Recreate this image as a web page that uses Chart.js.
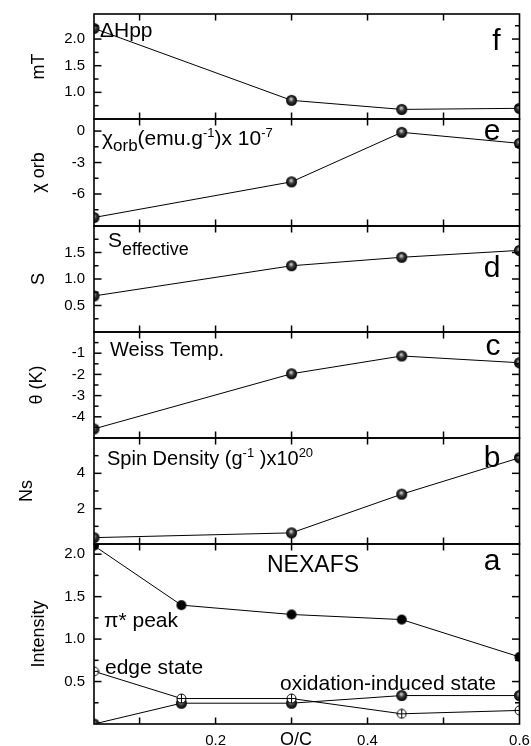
<!DOCTYPE html>
<html>
<head>
<meta charset="utf-8">
<script src="https://cdn.jsdelivr.net/npm/chart.js@4.4.1/dist/chart.umd.min.js"></script>
<style>
  body { margin: 0; background: #fff; width: 531px; height: 746px; position: relative; overflow: hidden; }
  canvas { position: absolute; left: 0; }
</style>
</head>
<body>
<canvas id="pf"></canvas>
<canvas id="pe"></canvas>
<canvas id="pd"></canvas>
<canvas id="pc"></canvas>
<canvas id="pb"></canvas>
<canvas id="pa"></canvas>
<script>
// O/C ratio (x) and tick values
const ocPanels = [0.04, 0.3, 0.445, 0.6];
const ocNexafs = [0.04, 0.155, 0.3, 0.445, 0.6];
const ocTicks = [0.1, 0.2, 0.3, 0.4, 0.5, 0.6];
const ocTickLabels = [0.2, 0.4, 0.6];

// series
const dHpp = [2.2, 0.85, 0.68, 0.7];
const chiOrb = [-8.24, -4.84, -0.12, -1.17];
const sEff = [0.68, 1.25, 1.41, 1.54];
const weiss = [-4.57, -1.97, -1.13, -1.45];
const spinDens = [0.36, 0.63, 2.82, 4.88];
const piPeak = [2.1, 1.4, 1.29, 1.23, 0.79];
const edgeState = [0.62, 0.3, 0.3, 0.12, 0.16];
const oxState = [0, 0.245, 0.245, 0.335, 0.335];

// y tick labels per panel
const fLabels = [1.0, 1.5, 2.0];
const eLabels = [-6, -3, 0];
const dLabels = [0.5, 1.0, 1.5];
const cLabels = [-4, -3, -2, -1];
const bLabels = [2, 4];
const aLabels = [0.5, 1.0, 1.5, 2.0];

const FONT = '"Liberation Sans", Arial, sans-serif';

// marker images
function ballMarker(r) {
  const c = document.createElement('canvas');
  const s = Math.ceil(r * 2) + 2;
  c.width = c.height = s;
  const g = c.getContext('2d');
  const cx = s / 2, cy = s / 2;
  const grad = g.createRadialGradient(cx - 0.5, cy - 1.6, 0.3, cx, cy, r);
  grad.addColorStop(0, '#d8d8d8');
  grad.addColorStop(0.45, '#3a3a3a');
  grad.addColorStop(1, '#000');
  g.fillStyle = grad;
  g.beginPath(); g.arc(cx, cy, r, 0, Math.PI * 2); g.fill();
  return c;
}
function dotMarker(r) {
  const c = document.createElement('canvas');
  const s = Math.ceil(r * 2) + 2;
  c.width = c.height = s;
  const g = c.getContext('2d');
  g.fillStyle = '#000';
  g.beginPath(); g.arc(s / 2, s / 2, r, 0, Math.PI * 2); g.fill();
  return c;
}
function plusCircleMarker(r) {
  const c = document.createElement('canvas');
  const s = Math.ceil(r * 2) + 2;
  c.width = c.height = s;
  const g = c.getContext('2d');
  const m = s / 2;
  g.fillStyle = '#fff'; g.strokeStyle = '#000'; g.lineWidth = 1;
  g.beginPath(); g.arc(m, m, r, 0, Math.PI * 2); g.fill(); g.stroke();
  g.beginPath();
  g.moveTo(m - r, m); g.lineTo(m + r, m);
  g.moveTo(m, m - r); g.lineTo(m, m + r);
  g.stroke();
  return c;
}
const markers = { ball: ballMarker(5.5), dot: dotMarker(5), plus: plusCircleMarker(4.5) };

const panels = [
  { id: 'pf', top: 14, bottom: 119, title: 'mT', titlePad: 28, min: 0.5, max: 2.47, minor: 0.25, labels: fLabels, dec: 1,
    letter: 'f', letterDy: 36,
    series: [{ x: ocPanels, y: dHpp, mark: 'ball' }],
    notes: [{ dx: 6, dy: 23, parts: [['ΔHpp', 21, 0]] }] },
  { id: 'pe', top: 119, bottom: 226, title: 'χ orb', titlePad: 28, min: -9.05, max: 1.15, minor: 1.5, labels: eLabels, dec: 0,
    letter: 'e', letterDy: 21,
    series: [{ x: ocPanels, y: chiOrb, mark: 'ball' }],
    notes: [{ dx: 8, dy: 26, parts: [['χ', 21, 0], ['orb', 17, -6], ['(emu.g', 21, 0], ['-1', 13, 8], [')x 10', 21, 0], ['-7', 13, 8]] }] },
  { id: 'pd', top: 226, bottom: 332, title: 'S', titlePad: 28, min: 0, max: 2.0, minor: 0.25, labels: dLabels, dec: 1,
    letter: 'd', letterDy: 51,
    series: [{ x: ocPanels, y: sEff, mark: 'ball' }],
    notes: [{ dx: 14, dy: 21, parts: [['S', 21, 0], ['effective', 18, -8]] }] },
  { id: 'pc', top: 332, bottom: 438, title: 'θ (K)', titlePad: 26, min: -5, max: 0, minor: 0.5, labels: cLabels, dec: 0,
    letter: 'c', letterDy: 23,
    series: [{ x: ocPanels, y: weiss, mark: 'ball' }],
    notes: [{ dx: 16, dy: 24, parts: [['Weiss Temp.', 20, 0]] }] },
  { id: 'pb', top: 438, bottom: 544, title: 'Ns', titlePad: 16, min: 0, max: 6, minor: 1, labels: bLabels, dec: 0,
    letter: 'b', letterDy: 29,
    series: [{ x: ocPanels, y: spinDens, mark: 'ball' }],
    notes: [{ dx: 13, dy: 27, parts: [['Spin Density (g', 20, 0], ['-1', 13, 8], [' )x10', 20, 0], ['20', 13, 8]] }] },
  { id: 'pa', top: 544, bottom: 724, title: 'Intensity', titlePad: 28, min: 0, max: 2.12, minor: 0.25, labels: aLabels, dec: 1,
    letter: 'a', letterDy: 26,
    series: [
      { x: ocNexafs, y: piPeak, mark: 'dot' },
      { x: ocNexafs, y: edgeState, mark: 'plus' },
      { x: ocNexafs, y: oxState, mark: 'ball' }
    ],
    notes: [
      { dx: 173, dy: 28, parts: [['NEXAFS', 23, 0]] },
      { dx: 10, dy: 83, parts: [['π* peak', 21, 0]] },
      { dx: 11, dy: 130, parts: [['edge state', 21, 0]] },
      { dx: 186, dy: 146, parts: [['oxidation-induced state', 21, 0]] }
    ] }
];

function line(ctx, x1, y1, x2, y2) {
  ctx.beginPath(); ctx.moveTo(x1, y1); ctx.lineTo(x2, y2); ctx.stroke();
}

function makeFrame(p, isBottom) {
  return {
    id: 'frame_' + p.id,
    afterDraw(chart) {
      const { ctx, chartArea: { left, right, top, bottom }, scales: { x, y } } = chart;
      ctx.save();
      ctx.strokeStyle = '#000';
      ctx.lineWidth = 1.5;
      // inward y ticks, major and minor, both sides
      const k0 = Math.ceil(p.min / p.minor - 1e-9), k1 = Math.floor(p.max / p.minor + 1e-9);
      for (let k = k0; k <= k1; k++) {
        const py = y.getPixelForValue(k * p.minor);
        if (py < top + 1 || py > bottom - 1) continue;
        const len = k % 2 === 0 ? 7.5 : 4.5;
        line(ctx, left, py, left + len, py);
        line(ctx, right, py, right - len, py);
      }
      // inward x ticks, top and bottom
      ocTicks.forEach(v => {
        const px = x.getPixelForValue(v);
        if (px > right - 1) return;
        line(ctx, px, bottom, px, bottom - 6.5);
        line(ctx, px, top, px, top + 6.5);
      });
      ctx.lineWidth = 1.6;
      ctx.strokeRect(left, top, right - left, bottom - top);

      // annotations
      ctx.fillStyle = '#000';
      ctx.textBaseline = 'alphabetic';
      ctx.textAlign = 'left';
      p.notes.forEach(n => {
        let cx = left + n.dx;
        n.parts.forEach(([t, size, rise]) => {
          ctx.font = size + 'px ' + FONT;
          ctx.fillText(t, cx, top + n.dy - rise);
          cx += ctx.measureText(t).width;
        });
      });
      ctx.font = '30px ' + FONT;
      ctx.textAlign = 'right';
      ctx.fillText(p.letter, right - 19, top + p.letterDy);
      if (isBottom) {
        ctx.font = '18px ' + FONT;
        ctx.textAlign = 'center';
        ctx.fillText('O/C', left + 202, chart.height - 1.5);
      }
      ctx.restore();
    }
  };
}

panels.forEach(p => {
  const canvas = document.getElementById(p.id);
  const isBottom = p.id === 'pa';
  const padTop = 20, padBottom = isBottom ? 0 : 20;
  canvas.width = 531;
  canvas.height = isBottom ? (746 - p.top + padTop) : (p.bottom - p.top + padTop + padBottom);
  canvas.style.top = (p.top - padTop) + 'px';

  new Chart(canvas.getContext('2d'), {
    type: 'line',
    data: {
      datasets: p.series.map(s => ({
        data: s.x.map((xv, k) => ({ x: xv, y: s.y[k] })),
        borderColor: '#000',
        borderWidth: 1,
        pointStyle: markers[s.mark],
        pointRadius: 5,
        tension: 0,
        fill: false,
        clip: 0
      }))
    },
    options: {
      responsive: false,
      animation: false,
      devicePixelRatio: 1,
      layout: { padding: { top: padTop, bottom: padBottom, left: 0, right: 11.5 } },
      plugins: { legend: { display: false }, tooltip: { enabled: false } },
      scales: {
        x: {
          type: 'linear', min: 0.04, max: 0.6,
          display: isBottom,
          grid: { display: false, drawTicks: false },
          border: { display: false },
          afterBuildTicks: s => { s.ticks = ocTickLabels.map(v => ({ value: v })); },
          afterFit: s => {
            s.height = isBottom ? 22 : 0;
            s.paddingLeft = 0;
            s.paddingRight = 0;
          },
          ticks: {
            font: { size: 15, family: FONT }, color: '#000', padding: 8,
            maxRotation: 0, autoSkip: false,
            callback: v => v.toFixed(1)
          }
        },
        y: {
          type: 'linear', min: p.min, max: p.max,
          grid: { display: false, drawTicks: false },
          border: { display: false },
          afterBuildTicks: s => { s.ticks = p.labels.map(v => ({ value: v })); },
          afterFit: s => { s.width = 94; },
          ticks: {
            font: { size: 15, family: FONT }, color: '#000', padding: 9,
            callback: v => v.toFixed(p.dec)
          },
          title: {
            display: true, text: p.title, color: '#000',
            font: { size: 18, family: FONT },
            padding: { top: p.titlePad, bottom: 0 }
          }
        }
      }
    },
    plugins: [makeFrame(p, isBottom)]
  });
});
</script>
</body>
</html>
